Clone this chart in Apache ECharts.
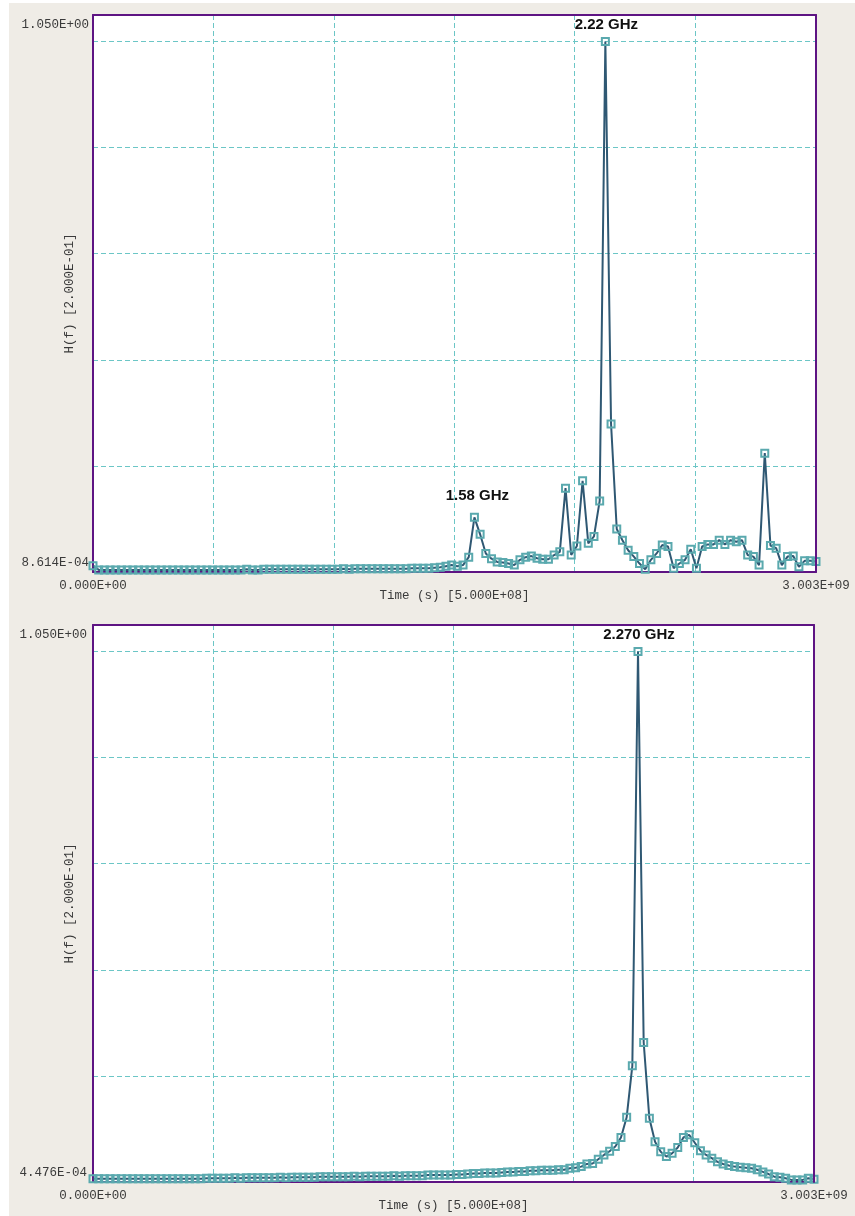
<!DOCTYPE html>
<html>
<head>
<meta charset="utf-8">
<script src="https://cdn.jsdelivr.net/npm/echarts@6/dist/echarts.min.js"></script>
<style>
  html, body { margin: 0; padding: 0; background: #ffffff; }
  #chart { position: absolute; left: 9px; top: 3px; width: 846px; height: 1213px; background: #efece6; }
</style>
</head>
<body>
<div id="chart"></div>
<script>
// ---- data ----
const freqMaxHz = 3.003e9;
const nPoints = 128;
const xAxisName = 'Time (s) [5.000E+08]';
const yAxisName = 'H(f) [2.000E-01]';
const xTickLabels = ['0.000E+00', '3.003E+09'];
const topYTickLabels = ['8.614E-04', '1.050E+00'];
const bottomYTickLabels = ['4.476E-04', '1.050E+00'];

const topH = [
  0.012,0.004,0.004,0.004,0.004,0.004,0.004,0.004,0.004,0.004,
  0.004,0.004,0.004,0.004,0.004,0.004,0.004,0.004,0.004,0.004,
  0.004,0.004,0.004,0.004,0.004,0.004,0.004,0.005,0.004,0.004,
  0.005,0.005,0.005,0.005,0.005,0.005,0.005,0.005,0.005,0.005,
  0.005,0.005,0.005,0.005,0.006,0.005,0.006,0.006,0.006,0.006,
  0.006,0.006,0.006,0.006,0.006,0.006,0.007,0.007,0.007,0.007,
  0.008,0.009,0.011,0.013,0.011,0.013,0.028,0.103,0.071,0.035,
  0.025,0.019,0.018,0.016,0.013,0.023,0.028,0.030,0.026,0.024,
  0.024,0.032,0.038,0.158,0.032,0.049,0.172,0.054,0.067,0.134,
  1.000,0.279,0.081,0.060,0.041,0.029,0.016,0.005,0.023,0.035,
  0.051,0.048,0.007,0.016,0.023,0.043,0.007,0.048,0.052,0.052,
  0.060,0.052,0.060,0.057,0.060,0.032,0.029,0.013,0.224,0.050,
  0.045,0.013,0.029,0.030,0.010,0.021,0.021,0.020
];
const bottomH = [
  0.006,0.006,0.006,0.006,0.006,0.006,0.006,0.006,0.006,0.006,
  0.006,0.006,0.006,0.006,0.006,0.006,0.006,0.006,0.006,0.006,
  0.007,0.007,0.007,0.007,0.007,0.008,0.007,0.008,0.008,0.008,
  0.008,0.008,0.008,0.009,0.008,0.009,0.009,0.009,0.009,0.009,
  0.010,0.010,0.010,0.010,0.010,0.010,0.011,0.010,0.011,0.011,
  0.011,0.011,0.011,0.012,0.011,0.012,0.012,0.012,0.012,0.013,
  0.013,0.013,0.013,0.013,0.014,0.014,0.015,0.016,0.016,0.017,
  0.017,0.017,0.018,0.019,0.019,0.020,0.020,0.021,0.021,0.022,
  0.022,0.022,0.023,0.023,0.026,0.027,0.029,0.034,0.035,0.043,
  0.051,0.058,0.067,0.084,0.122,0.219,1.000,0.263,0.120,0.076,
  0.057,0.048,0.054,0.065,0.084,0.089,0.074,0.059,0.051,0.045,
  0.038,0.034,0.031,0.029,0.028,0.027,0.026,0.023,0.019,0.015,
  0.010,0.009,0.007,0.004,0.004,0.004,0.007,0.005
];
const topPeaks = [ { index: 67, text: '1.58 GHz' }, { index: 90, text: '2.22 GHz' } ];
const bottomPeaks = [ { index: 96, text: '2.270 GHz' } ];

// ---- styles ----
const BG = '#efece6';
const FRAME = '#5e1483';
const GRIDC = '#6cc6c6';
const LINEC = '#2f5873';
const MARKC = '#5aa9ae';
const TXT = '#3a3a3a';
const MONO = '"Liberation Mono", "Courier New", monospace';

const freqs = [];
for (let i = 0; i < nPoints; i++) freqs.push(i * freqMaxHz / (nPoints - 1));

function buildData(vals, peaks) {
  return vals.map((v, i) => {
    const p = peaks.find(q => q.index === i);
    if (!p) return [freqs[i], v];
    return {
      value: [freqs[i], v],
      label: {
        show: true, position: 'top', distance: p.index === 67 ? 10 : 5,
        offset: p.index === 67 ? [3, 0] : [1, 0],
        formatter: p.text, fontSize: 15, fontWeight: 'bold',
        fontFamily: '"Liberation Sans", Arial, sans-serif', color: '#111'
      }
    };
  });
}

const grids = [
  { left: 84, top: 12, width: 723, height: 557 },
  { left: 84, top: 622, width: 721, height: 557 }
];

const xAxes = [], yAxes = [], series = [];
[[topH, topPeaks, topYTickLabels, 4], [bottomH, bottomPeaks, bottomYTickLabels, 6]].forEach((cfg, g) => {
  const [vals, peaks, yLabels, yMargin] = cfg;
  xAxes.push({
    gridIndex: g, type: 'value', min: 0, max: freqMaxHz, interval: 5e8,
    axisLine: { show: true, onZero: false, lineStyle: { color: FRAME, width: 2 } },
    axisTick: { show: false },
    axisLabel: {
      show: true, showMinLabel: true, showMaxLabel: true, hideOverlap: false,
      margin: 7, fontFamily: MONO, fontSize: 12.5, color: TXT,
      formatter: v => (v === 0 ? xTickLabels[0] : (Math.abs(v - freqMaxHz) < 1 ? xTickLabels[1] : ''))
    },
    splitLine: { show: true, showMinLine: false, showMaxLine: false, lineStyle: { color: GRIDC, type: [5, 3], width: 1 } },
    name: xAxisName, nameLocation: 'middle', nameGap: 17, nameMoveOverlap: false,
    nameTextStyle: { fontFamily: MONO, fontSize: 12.5, color: TXT }
  });
  xAxes.push({
    gridIndex: g, type: 'value', min: 0, max: freqMaxHz, position: 'top', z: 5,
    axisLine: { show: true, onZero: false, lineStyle: { color: FRAME, width: 2 } },
    axisTick: { show: false }, axisLabel: { show: false }, splitLine: { show: false }
  });
  yAxes.push({
    gridIndex: g, type: 'value', min: 0, max: 1.05, interval: 0.2,
    axisLine: { show: true, onZero: false, lineStyle: { color: FRAME, width: 2 } },
    axisTick: { show: false },
    axisLabel: {
      show: true, showMinLabel: true, showMaxLabel: true, margin: yMargin,
      fontFamily: MONO, fontSize: 12.5, color: TXT,
      formatter: v => (v === 0 ? '{b|' + yLabels[0] + '}' : (Math.abs(v - 1.05) < 1e-9 ? '{t|' + yLabels[1] + '}' : '')),
      rich: {
        t: { fontFamily: MONO, fontSize: 12.5, color: TXT, padding: [20, 0, 0, 0] },
        b: { fontFamily: MONO, fontSize: 12.5, color: TXT, padding: [0, 0, 18, 0] }
      }
    },
    splitLine: { show: true, showMinLine: false, showMaxLine: false, lineStyle: { color: GRIDC, type: [5, 3], width: 1 } },
    name: yAxisName, nameLocation: 'middle', nameGap: 17, nameMoveOverlap: false,
    nameTextStyle: { fontFamily: MONO, fontSize: 12.5, color: TXT }
  });
  yAxes.push({
    gridIndex: g, type: 'value', min: 0, max: 1.05, position: 'right', z: 5,
    axisLine: { show: true, onZero: false, lineStyle: { color: FRAME, width: 2 } },
    axisTick: { show: false }, axisLabel: { show: false }, splitLine: { show: false }
  });
  series.push({
    type: 'line', xAxisIndex: g * 2, yAxisIndex: g * 2,
    data: buildData(vals, peaks),
    showAllSymbol: true, symbol: 'rect', symbolSize: 7,
    lineStyle: { color: LINEC, width: 2 },
    itemStyle: { color: 'rgba(255,255,255,0)', borderColor: MARKC, borderWidth: 2 },
    z: 3
  });
});

const chart = echarts.init(document.getElementById('chart'), null, { renderer: 'canvas' });
chart.setOption({
  animation: false,
  backgroundColor: BG,
  grid: grids.map(g => Object.assign({ show: true, backgroundColor: '#ffffff', borderWidth: 0, outerBoundsMode: 'none', containLabel: false }, g)),
  xAxis: xAxes,
  yAxis: yAxes,
  series: series
});
</script>
</body>
</html>
